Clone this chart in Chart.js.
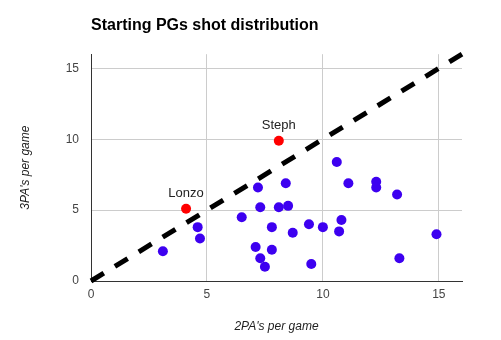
<!DOCTYPE html>
<html>
<head>
<meta charset="utf-8">
<script src="https://cdn.jsdelivr.net/npm/chart.js@4/dist/chart.umd.min.js"></script>
<style>
    body { margin: 0; background: #fff; }
    #wrap { width: 501px; height: 340px; }
</style>
</head>
<body>
<div id="wrap"><canvas id="chart" width="501" height="340"></canvas></div>
<script>
// ================= DATA =================
const twoPA = [3.1, 4.6, 4.7, 6.5, 7.2, 7.3, 7.8, 7.1, 7.8, 7.3, 7.5, 8.1, 10.6, 8.4, 11.1, 12.3, 12.3, 13.2, 8.5, 8.7, 9.4, 10.0, 10.8, 10.7, 14.9, 9.5, 13.3];
const threePA = [2.1, 3.8, 3.0, 4.5, 6.6, 5.2, 3.8, 2.4, 2.2, 1.6, 1.0, 5.2, 8.4, 6.9, 6.9, 7.0, 6.6, 6.1, 5.3, 3.4, 4.0, 3.8, 4.3, 3.5, 3.3, 1.2, 1.6];

const hlNames = ['Lonzo', 'Steph'];
const hlTwoPA = [4.1, 8.1];
const hlThreePA = [5.1, 9.9];

const refLine = [0, 16];   // y = x
const tickValues = [0, 5, 10, 15];

const FONT = "'Liberation Sans', Arial, sans-serif";

// ================= LABELS =================
const pointLabels = {
    id: 'pointLabels',
    afterDatasetsDraw(chart) {
        const ctx = chart.ctx;
        const meta = chart.getDatasetMeta(1);
        ctx.save();
        ctx.font = '13px ' + FONT;
        ctx.fillStyle = '#222';
        ctx.textAlign = 'center';
        ctx.textBaseline = 'alphabetic';
        meta.data.forEach((pt, i) => {
            ctx.fillText(hlNames[i], pt.x, pt.y - 12);
        });
        ctx.restore();
    }
};

// ================= CHART =================
const axisTicks = {
    includeBounds: false,
    stepSize: 5,
    color: '#444',
    font: { family: FONT, size: 12 }
};

new Chart(document.getElementById('chart'), {
    type: 'scatter',
    data: {
        datasets: [
            {
                type: 'line',
                data: refLine.map(v => ({ x: v, y: v })),
                borderColor: '#000',
                borderWidth: 5,
                borderDash: [15, 13],
                borderCapStyle: 'butt',
                pointRadius: 0,
                fill: false,
                clip: false,
                order: 0
            },
            {
                data: hlTwoPA.map((x, i) => ({ x: x, y: hlThreePA[i] })),
                backgroundColor: '#f00',
                borderWidth: 0,
                pointRadius: 5,
                order: 1
            },
            {
                data: twoPA.map((x, i) => ({ x: x, y: threePA[i] })),
                backgroundColor: '#3d00f0',
                borderWidth: 0,
                pointRadius: 5,
                order: 2
            }
        ]
    },
    options: {
        responsive: false,
        animation: false,
        layout: { padding: { left: 0, right: 39, top: 0, bottom: 0 } },
        plugins: {
            legend: { display: false },
            tooltip: { enabled: false },
            title: {
                display: true,
                text: 'Starting PGs shot distribution',
                align: 'start',
                fullSize: false,
                color: '#000',
                font: { family: FONT, size: 16, weight: 'bold' },
                padding: { top: 16, bottom: 19 }
            }
        },
        scales: {
            x: {
                type: 'linear',
                min: 0,
                max: 16,
                afterBuildTicks: s => { s.ticks = tickValues.map(v => ({ value: v })); },
                afterFit: s => { s.height = 59; },
                ticks: { ...axisTicks, padding: 6 },
                grid: {
                    color: c => c.tick.value === 0 ? 'rgba(0,0,0,0)' : '#ccc',
                    drawTicks: false
                },
                border: { color: '#333', width: 1 },
                title: {
                    display: true,
                    text: "2PA's per game",
                    color: '#222',
                    font: { family: FONT, size: 12, style: 'italic' },
                    padding: { top: 0, bottom: 6 }
                }
            },
            y: {
                type: 'linear',
                min: 0,
                max: 16,
                afterBuildTicks: s => { s.ticks = tickValues.map(v => ({ value: v })); },
                afterFit: s => { s.width = 91; },
                ticks: { ...axisTicks, padding: 12 },
                grid: {
                    color: c => c.tick.value === 0 ? 'rgba(0,0,0,0)' : '#ccc',
                    drawTicks: false
                },
                border: { color: '#333', width: 1 },
                title: {
                    display: true,
                    text: "3PA's per game",
                    color: '#222',
                    font: { family: FONT, size: 12, style: 'italic' },
                    padding: { top: 18, bottom: 0 }
                }
            }
        }
    },
    plugins: [pointLabels]
});
</script>
</body>
</html>
